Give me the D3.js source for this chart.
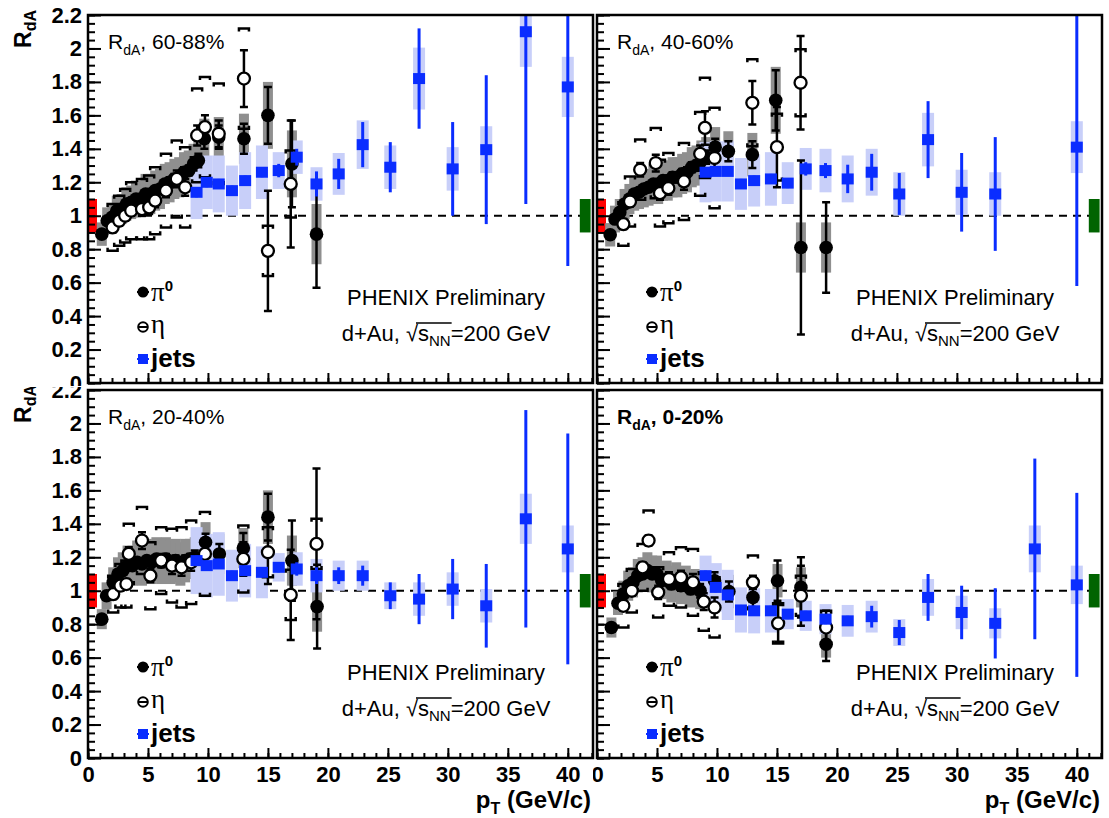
<!DOCTYPE html>
<html>
<head>
<meta charset="utf-8">
<script src="https://cdn.jsdelivr.net/npm/d3@7"></script>
<style>
  body { margin: 0; background: #fff; }
  text { font-family: "Liberation Sans", Arial, sans-serif; }
</style>
</head>
<body>
<script>
// ---- data ----
// pi0 / eta rows: [pT, RdA, stat, sys]
const centralities = ["60-88%", "40-60%", "20-40%", "0-20%"];
const yTickVals = [0, 0.2, 0.4, 0.6, 0.8, 1, 1.2, 1.4, 1.6, 1.8, 2, 2.2];
const xTickVals = [0, 5, 10, 15, 20, 25, 30, 35, 40];
const jetPt = [9.05, 9.9, 10.9, 12.0, 13.1, 14.5, 15.9, 17.4, 19.05, 20.9, 22.9, 25.2, 27.6, 30.4, 33.2, 36.5, 40.0];

const pi0_6088 = [
  [1.15, 0.89, 0.02, 0.07], [1.6, 0.97, 0.02, 0.08], [2.0, 0.99, 0.02, 0.08], [2.4, 1.03, 0.02, 0.09],
  [2.8, 1.04, 0.02, 0.09], [3.2, 1.07, 0.02, 0.1], [3.6, 1.08, 0.02, 0.1], [4.0, 1.1, 0.02, 0.11],
  [4.4, 1.1, 0.02, 0.11], [4.8, 1.13, 0.02, 0.12], [5.2, 1.13, 0.02, 0.12], [5.6, 1.15, 0.02, 0.12],
  [6.0, 1.16, 0.02, 0.12], [6.4, 1.19, 0.02, 0.12], [6.8, 1.2, 0.03, 0.12], [7.2, 1.22, 0.03, 0.12],
  [7.6, 1.23, 0.03, 0.12], [8.0, 1.26, 0.03, 0.12], [8.4, 1.27, 0.03, 0.12], [8.8, 1.31, 0.04, 0.12],
  [9.2, 1.33, 0.04, 0.12], [9.7, 1.46, 0.06, 0.12], [10.9, 1.47, 0.07, 0.12], [13.0, 1.46, 0.09, 0.15],
  [15.0, 1.6, 0.17, 0.2], [17.0, 1.31, 0.26, 0.2], [19.05, 0.89, 0.32, 0.18]
];
const eta_6088 = [
  [2.05, 0.93, 0.03, 0.14], [2.6, 0.97, 0.03, 0.15], [3.1, 1.0, 0.03, 0.16], [3.6, 1.03, 0.03, 0.17],
  [4.5, 1.04, 0.04, 0.18], [5.1, 1.05, 0.04, 0.19], [5.6, 1.09, 0.04, 0.2], [6.5, 1.15, 0.04, 0.22],
  [7.4, 1.22, 0.05, 0.23], [8.1, 1.17, 0.05, 0.24], [9.1, 1.48, 0.06, 0.28], [9.75, 1.53, 0.07, 0.3],
  [10.9, 1.49, 0.08, 0.3], [13.0, 1.82, 0.17, 0.3], [15.0, 0.79, 0.36, 0.15], [16.9, 1.19, 0.38, 0.2]
];
// jets rows follow jetPt: [RdA, stat, sys]
const jets_6088 = [
  [1.14, 0.03, 0.16], [1.2, 0.03, 0.16], [1.19, 0.03, 0.17], [1.15, 0.03, 0.15], [1.21, 0.03, 0.17],
  [1.26, 0.03, 0.16], [1.27, 0.04, 0.11], [1.35, 0.05, 0.1], [1.19, 0.075, 0.1], [1.25, 0.09, 0.125],
  [1.425, 0.135, 0.145], [1.29, 0.15, 0.13], [1.82, 0.3, 0.185], [1.28, 0.28, 0.13], [1.395, 0.445, 0.14],
  [2.1, 1.03, 0.21], [1.77, 1.07, 0.18]
];

const pi0_4060 = [
  [1.1, 0.886, 0.02, 0.07], [1.5, 0.98, 0.02, 0.08], [1.9, 1.02, 0.02, 0.08], [2.3, 1.07, 0.02, 0.09],
  [2.7, 1.1, 0.02, 0.09], [3.1, 1.13, 0.02, 0.1], [3.5, 1.14, 0.02, 0.1], [3.9, 1.16, 0.02, 0.11],
  [4.3, 1.17, 0.02, 0.11], [4.7, 1.19, 0.02, 0.12], [5.1, 1.19, 0.02, 0.12], [5.5, 1.21, 0.02, 0.12],
  [5.9, 1.21, 0.02, 0.12], [6.3, 1.23, 0.03, 0.12], [6.7, 1.23, 0.03, 0.12], [7.1, 1.25, 0.03, 0.12],
  [7.5, 1.26, 0.03, 0.12], [7.9, 1.29, 0.03, 0.12], [8.3, 1.3, 0.03, 0.12], [8.7, 1.33, 0.04, 0.12],
  [9.1, 1.35, 0.04, 0.12], [9.85, 1.41, 0.05, 0.12], [10.95, 1.385, 0.06, 0.12], [12.95, 1.365, 0.08, 0.13],
  [14.9, 1.69, 0.18, 0.2], [17.0, 0.81, 0.52, 0.15], [19.1, 0.81, 0.27, 0.15]
];
const eta_4060 = [
  [2.2, 0.95, 0.03, 0.13], [2.75, 1.085, 0.03, 0.15], [3.6, 1.275, 0.04, 0.18], [4.9, 1.315, 0.05, 0.21],
  [5.25, 1.135, 0.04, 0.2], [5.95, 1.165, 0.04, 0.21], [7.25, 1.205, 0.05, 0.23], [8.6, 1.37, 0.05, 0.25],
  [9.0, 1.525, 0.1, 0.3], [9.8, 1.345, 0.08, 0.3], [12.95, 1.675, 0.13, 0.26], [15.0, 1.41, 0.24, 0.2],
  [16.97, 1.795, 0.28, 0.2]
];
const jets_4060 = [
  [1.26, 0.02, 0.18], [1.265, 0.02, 0.18], [1.265, 0.02, 0.18], [1.19, 0.03, 0.155], [1.21, 0.03, 0.155],
  [1.22, 0.03, 0.16], [1.195, 0.03, 0.125], [1.28, 0.04, 0.125], [1.27, 0.045, 0.13], [1.22, 0.085, 0.14],
  [1.26, 0.11, 0.14], [1.13, 0.125, 0.13], [1.455, 0.23, 0.16], [1.14, 0.235, 0.135], [1.13, 0.34, 0.13],
  null, [1.41, 0.83, 0.155]
];

const pi0_2040 = [
  [1.15, 0.83, 0.02, 0.06], [1.55, 0.97, 0.02, 0.08], [2.1, 1.05, 0.02, 0.09], [2.5, 1.1, 0.02, 0.1],
  [2.9, 1.12, 0.02, 0.11], [3.3, 1.15, 0.02, 0.12], [3.7, 1.15, 0.02, 0.12], [4.1, 1.17, 0.02, 0.13],
  [4.5, 1.16, 0.02, 0.13], [4.9, 1.18, 0.02, 0.13], [5.3, 1.17, 0.02, 0.13], [5.7, 1.19, 0.02, 0.13],
  [6.1, 1.17, 0.02, 0.13], [6.5, 1.19, 0.03, 0.13], [6.9, 1.17, 0.03, 0.13], [7.3, 1.18, 0.03, 0.13],
  [7.7, 1.16, 0.03, 0.13], [8.1, 1.18, 0.03, 0.13], [8.5, 1.19, 0.03, 0.12], [8.9, 1.2, 0.04, 0.12],
  [9.8, 1.29, 0.05, 0.12], [10.95, 1.22, 0.06, 0.12], [12.95, 1.255, 0.09, 0.12], [15.0, 1.44, 0.14, 0.16],
  [17.0, 1.18, 0.24, 0.15], [19.1, 0.905, 0.25, 0.15]
];
const eta_2040 = [
  [2.1, 0.98, 0.03, 0.11], [2.7, 1.03, 0.03, 0.13], [3.2, 1.04, 0.03, 0.14], [3.4, 1.22, 0.04, 0.18],
  [4.5, 1.3, 0.05, 0.2], [5.2, 1.09, 0.04, 0.2], [6.1, 1.18, 0.04, 0.2], [7.0, 1.15, 0.05, 0.22],
  [7.8, 1.14, 0.05, 0.24], [8.6, 1.17, 0.05, 0.25], [9.75, 1.22, 0.07, 0.25], [12.95, 1.19, 0.1, 0.2],
  [15.0, 1.23, 0.19, 0.15], [16.9, 0.975, 0.27, 0.15], [19.05, 1.28, 0.45, 0.15]
];
const jets_2040 = [
  [1.18, 0.03, 0.2], [1.15, 0.03, 0.19], [1.16, 0.03, 0.19], [1.09, 0.03, 0.155], [1.12, 0.03, 0.16],
  [1.11, 0.03, 0.155], [1.14, 0.03, 0.085], [1.13, 0.04, 0.1], [1.09, 0.05, 0.1], [1.09, 0.05, 0.09],
  [1.09, 0.06, 0.09], [0.97, 0.08, 0.08], [0.95, 0.15, 0.1], [1.01, 0.18, 0.1], [0.91, 0.25, 0.1],
  [1.43, 0.65, 0.15], [1.25, 0.69, 0.14]
];

const pi0_0020 = [
  [1.2, 0.78, 0.02, 0.06], [1.75, 0.925, 0.02, 0.07], [2.2, 0.98, 0.02, 0.08], [2.6, 1.03, 0.02, 0.09],
  [3.0, 1.05, 0.02, 0.09], [3.4, 1.09, 0.02, 0.1], [3.8, 1.1, 0.02, 0.1], [4.2, 1.12, 0.02, 0.11],
  [4.6, 1.1, 0.02, 0.11], [5.0, 1.1, 0.02, 0.11], [5.4, 1.06, 0.02, 0.11], [5.8, 1.07, 0.02, 0.11],
  [6.2, 1.04, 0.03, 0.11], [6.6, 1.06, 0.03, 0.11], [7.0, 1.03, 0.03, 0.11], [7.4, 1.04, 0.03, 0.11],
  [7.8, 1.01, 0.03, 0.11], [8.2, 1.02, 0.03, 0.11], [8.6, 1.0, 0.04, 0.11], [9.8, 1.06, 0.05, 0.1],
  [11.0, 0.995, 0.06, 0.1], [13.0, 0.96, 0.07, 0.1], [15.05, 1.06, 0.12, 0.1], [17.0, 1.02, 0.18, 0.12],
  [19.1, 0.68, 0.1, 0.08]
];
const eta_0020 = [
  [2.2, 0.91, 0.03, 0.13], [2.9, 1.0, 0.03, 0.13], [3.8, 1.14, 0.03, 0.14], [4.3, 1.3, 0.03, 0.18],
  [5.1, 0.99, 0.04, 0.15], [6.0, 1.07, 0.04, 0.16], [7.0, 1.08, 0.04, 0.18], [8.0, 1.05, 0.05, 0.2],
  [8.9, 0.935, 0.05, 0.175], [9.8, 0.9, 0.06, 0.18], [13.0, 1.05, 0.04, 0.16], [15.1, 0.805, 0.11, 0.12],
  [17.0, 0.97, 0.18, 0.12], [19.1, 0.78, 0.1, 0.1]
];
const jets_0020 = [
  [1.09, 0.03, 0.12], [1.02, 0.03, 0.145], [0.975, 0.03, 0.15], [0.885, 0.03, 0.135], [0.88, 0.03, 0.135],
  [0.88, 0.03, 0.13], [0.86, 0.03, 0.09], [0.85, 0.03, 0.09], [0.83, 0.03, 0.09], [0.82, 0.03, 0.095],
  [0.845, 0.065, 0.095], [0.75, 0.075, 0.08], [0.96, 0.14, 0.11], [0.87, 0.16, 0.1], [0.805, 0.21, 0.09],
  [1.25, 0.54, 0.14], [1.035, 0.55, 0.115]
];

// ---- layout ----
const width = 1109;
const height = 818;
const pw = 505, ph = 368;
const blue = "#0a2dff", lightBlue = "#c8cff9", grey = "#8f8f8f";

const panels = [
  { x0: 88, y0: 15, top: true, left: true, pi0: pi0_6088, eta: eta_6088, jets: jets_6088 },
  { x0: 597, y0: 15, top: true, left: false, pi0: pi0_4060, eta: eta_4060, jets: jets_4060 },
  { x0: 88, y0: 390, top: false, left: true, pi0: pi0_2040, eta: eta_2040, jets: jets_2040 },
  { x0: 597, y0: 390, top: false, left: false, pi0: pi0_0020, eta: eta_0020, jets: jets_0020 },
];

const svg = d3.select("body").append("svg").attr("width", width).attr("height", height);
svg.append("rect").attr("width", width).attr("height", height).attr("fill", "#fff");
const defs = svg.append("defs");

panels.forEach((p, i) => drawPanel(p, i));

function drawPanel(p, i) {
  const x = d3.scaleLinear().domain([0, 42.1]).range([p.x0, p.x0 + pw]);
  const y = d3.scaleLinear().domain([0, 2.2]).range([p.y0 + ph, p.y0]);

  defs.append("clipPath").attr("id", `clip-data-${i}`)
    .append("rect").attr("x", p.x0).attr("y", p.y0).attr("width", pw).attr("height", ph);
  defs.append("clipPath").attr("id", `clip-lab-${i}`)
    .append("rect")
    .attr("x", p.left ? 0 : 593)
    .attr("y", p.top ? 0 : 387)
    .attr("width", width)
    .attr("height", p.top ? 386 : height - 387);

  const g = svg.append("g").attr("clip-path", `url(#clip-data-${i})`);

  // reference line at 1
  g.append("line")
    .attr("x1", p.x0).attr("x2", p.x0 + pw)
    .attr("y1", y(1)).attr("y2", y(1))
    .attr("stroke", "#000").attr("stroke-width", 2).attr("stroke-dasharray", "8,6");

  // normalisation boxes
  g.append("rect")
    .attr("x", x(0)).attr("width", x(0.75) - x(0))
    .attr("y", y(1.1)).attr("height", y(0.9) - y(1.1))
    .attr("fill", "#ff0000");
  g.append("rect")
    .attr("x", x(41.0)).attr("width", x(41.9) - x(41.0))
    .attr("y", y(1.1)).attr("height", y(0.9) - y(1.1))
    .attr("fill", "#006400");

  const jets = jetPt.map((pt, k) => p.jets[k] ? { pt, v: p.jets[k][0], stat: p.jets[k][1], sys: p.jets[k][2] } : null)
    .filter((d) => d);
  const pi0 = p.pi0.map((r) => ({ pt: r[0], v: r[1], stat: r[2], sys: r[3] }));
  const eta = p.eta.map((r) => ({ pt: r[0], v: r[1], stat: r[2], sys: r[3] }));

  // pi0 systematics (grey boxes)
  g.selectAll(".pi0sys").data(pi0).enter().append("rect")
    .attr("x", (d) => x(d.pt) - 5)
    .attr("width", 10)
    .attr("y", (d) => y(d.v + d.sys))
    .attr("height", (d) => y(d.v - d.sys) - y(d.v + d.sys))
    .attr("fill", grey);

  // jet systematics (light blue boxes)
  g.selectAll(".jetsys").data(jets).enter().append("rect")
    .attr("x", (d) => x(d.pt) - 6)
    .attr("width", 12)
    .attr("y", (d) => y(d.v + d.sys))
    .attr("height", (d) => y(d.v - d.sys) - y(d.v + d.sys))
    .attr("fill", lightBlue);

  // eta systematics (brackets)
  g.selectAll(".etasys").data(eta).enter().append("path")
    .attr("d", (d) => {
      const cx = x(d.pt), hi = y(d.v + d.sys), lo = y(d.v - d.sys);
      return `M${cx - 5},${hi + 3}V${hi}H${cx + 5}V${hi + 3}` +
             `M${cx - 5},${lo - 3}V${lo}H${cx + 5}V${lo - 3}`;
    })
    .attr("fill", "none").attr("stroke", "#000").attr("stroke-width", 2.5);

  // stat error bars, pi0 and eta
  [pi0, eta].forEach((set) => {
    g.append("g").selectAll("path").data(set).enter().append("path")
      .attr("d", (d) => {
        const cx = x(d.pt), hi = y(d.v + d.stat), lo = y(d.v - d.stat);
        return `M${cx},${hi}V${lo}M${cx - 4},${hi}H${cx + 4}M${cx - 4},${lo}H${cx + 4}`;
      })
      .attr("fill", "none").attr("stroke", "#000").attr("stroke-width", 2.5);
  });

  g.selectAll(".pi0").data(pi0).enter().append("circle")
    .attr("cx", (d) => x(d.pt)).attr("cy", (d) => y(d.v))
    .attr("r", 6.8).attr("fill", "#000");

  g.selectAll(".eta").data(eta).enter().append("circle")
    .attr("cx", (d) => x(d.pt)).attr("cy", (d) => y(d.v))
    .attr("r", 6).attr("fill", "#fff").attr("stroke", "#000").attr("stroke-width", 2.3);

  // jets stat bars and markers
  g.selectAll(".jetstat").data(jets).enter().append("line")
    .attr("x1", (d) => x(d.pt)).attr("x2", (d) => x(d.pt))
    .attr("y1", (d) => y(d.v + d.stat)).attr("y2", (d) => y(d.v - d.stat))
    .attr("stroke", blue).attr("stroke-width", 3);
  g.selectAll(".jet").data(jets).enter().append("rect")
    .attr("x", (d) => x(d.pt) - 6).attr("y", (d) => y(d.v) - 5.5)
    .attr("width", 12).attr("height", 11)
    .attr("fill", blue);

  // axes
  const lab = svg.append("g").attr("clip-path", `url(#clip-lab-${i})`);
  const fmt = (d) => String(+d.toFixed(1));

  lab.append("g")
    .attr("transform", `translate(0,${p.y0 + ph})`)
    .call(d3.axisBottom(x).tickValues(d3.range(0, 43, 1)).tickSize(-5).tickFormat(""))
    .call((a) => a.select(".domain").remove());
  const xa = lab.append("g")
    .attr("transform", `translate(0,${p.y0 + ph})`)
    .call(d3.axisBottom(x).tickValues(xTickVals).tickSize(-10).tickPadding(5)
      .tickFormat(p.top ? "" : fmt));
  xa.select(".domain").remove();

  lab.append("g")
    .attr("transform", `translate(${p.x0},0)`)
    .call(d3.axisLeft(y).tickValues(d3.range(0, 2.21, 0.05)).tickSize(-7).tickFormat(""))
    .call((a) => a.select(".domain").remove());
  const ya = lab.append("g")
    .attr("transform", `translate(${p.x0},0)`)
    .call(d3.axisLeft(y).tickValues(yTickVals).tickSize(-13).tickPadding(6)
      .tickFormat(p.left ? fmt : ""));
  ya.select(".domain").remove();

  lab.selectAll(".tick line").attr("stroke", "#000").attr("stroke-width", 2);
  lab.selectAll(".tick text")
    .attr("fill", "#000").style("font-family", "'Liberation Sans', Arial, sans-serif")
    .style("font-size", "22px").style("font-weight", "bold");
  xa.selectAll(".tick text").attr("dy", "0.85em");

  // frame
  svg.append("rect")
    .attr("x", p.x0).attr("y", p.y0).attr("width", pw).attr("height", ph)
    .attr("fill", "none").attr("stroke", "#000").attr("stroke-width", 2.5);

  // y title
  if (p.left) {
    const t = lab.append("text")
      .attr("transform", `translate(31,${p.y0 - 5}) rotate(-90)`)
      .attr("text-anchor", "end")
      .style("font-size", "23px").style("font-weight", "bold");
    t.append("tspan").text("R");
    t.append("tspan").attr("dy", 5).style("font-size", "16px").text("dA");
  }
  // x title
  if (!p.top) {
    const t = svg.append("text")
      .attr("x", p.x0 + pw - 2).attr("y", 808)
      .attr("text-anchor", "end")
      .style("font-size", "24px").style("font-weight", "bold");
    t.append("tspan").text("p");
    t.append("tspan").attr("dy", 6).style("font-size", "16px").text("T");
    t.append("tspan").attr("dy", -6).text(" (GeV/c)");
  }

  // panel label
  const bold = i === 3;
  const tl = svg.append("text")
    .attr("x", p.x0 + 20).attr("y", p.y0 + 34)
    .style("font-size", "21px").style("font-weight", bold ? "bold" : "normal");
  tl.append("tspan").text("R");
  tl.append("tspan").attr("dy", 6).style("font-size", "14px").text("dA");
  tl.append("tspan").attr("dy", -6).text(", " + centralities[i]);

  // legend
  const ly = p.y0;
  const lx = p.x0 + 55;
  const leg = svg.append("g");
  leg.append("line").attr("x1", lx - 6).attr("x2", lx + 6).attr("y1", ly + 277).attr("y2", ly + 277)
    .attr("stroke", "#000").attr("stroke-width", 2);
  leg.append("circle").attr("cx", lx).attr("cy", ly + 277).attr("r", 5.5).attr("fill", "#000");
  const tp = leg.append("text").attr("x", lx + 8).attr("y", ly + 286);
  tp.append("tspan").style("font-family", "'Liberation Serif', 'Times New Roman', serif").style("font-size", "27px").text("π");
  tp.append("tspan").attr("dy", -10).style("font-size", "15px").style("font-weight", "bold").text("0");

  leg.append("circle").attr("cx", lx).attr("cy", ly + 312).attr("r", 4.8)
    .attr("fill", "#fff").attr("stroke", "#000").attr("stroke-width", 2);
  leg.append("line").attr("x1", lx - 5).attr("x2", lx + 5).attr("y1", ly + 312).attr("y2", ly + 312)
    .attr("stroke", "#000").attr("stroke-width", 2);
  leg.append("text").attr("x", lx + 8).attr("y", ly + 318)
    .style("font-family", "'Liberation Serif', 'Times New Roman', serif").style("font-size", "27px").text("η");

  leg.append("line").attr("x1", lx - 6).attr("x2", lx + 6).attr("y1", ly + 344).attr("y2", ly + 344)
    .attr("stroke", blue).attr("stroke-width", 2);
  leg.append("rect").attr("x", lx - 5).attr("y", ly + 339).attr("width", 10).attr("height", 10).attr("fill", blue);
  leg.append("text").attr("x", lx + 8).attr("y", ly + 352)
    .style("font-size", "26px").style("font-weight", "bold").text("jets");

  // PHENIX text
  const cx = p.x0 + 358;
  svg.append("text").attr("x", cx).attr("y", p.y0 + 290)
    .attr("text-anchor", "middle").style("font-size", "22px").text("PHENIX Preliminary");
  const t2 = svg.append("text").attr("x", cx).attr("y", p.y0 + 326)
    .attr("text-anchor", "middle").style("font-size", "22px");
  t2.append("tspan").text("d+Au, ");
  t2.append("tspan").text("√");
  t2.append("tspan").text("s");
  t2.append("tspan").attr("dy", 5).style("font-size", "15px").text("NN");
  t2.append("tspan").attr("dy", -5).text("=200 GeV");
  const node = t2.node();
  const sx = node.getStartPositionOfChar(7).x;
  const ex = node.getEndPositionOfChar(9).x;
  svg.append("line").attr("x1", sx - 2).attr("x2", ex + 1)
    .attr("y1", p.y0 + 308).attr("y2", p.y0 + 308)
    .attr("stroke", "#000").attr("stroke-width", 1.5);
}
</script>
</body>
</html>
